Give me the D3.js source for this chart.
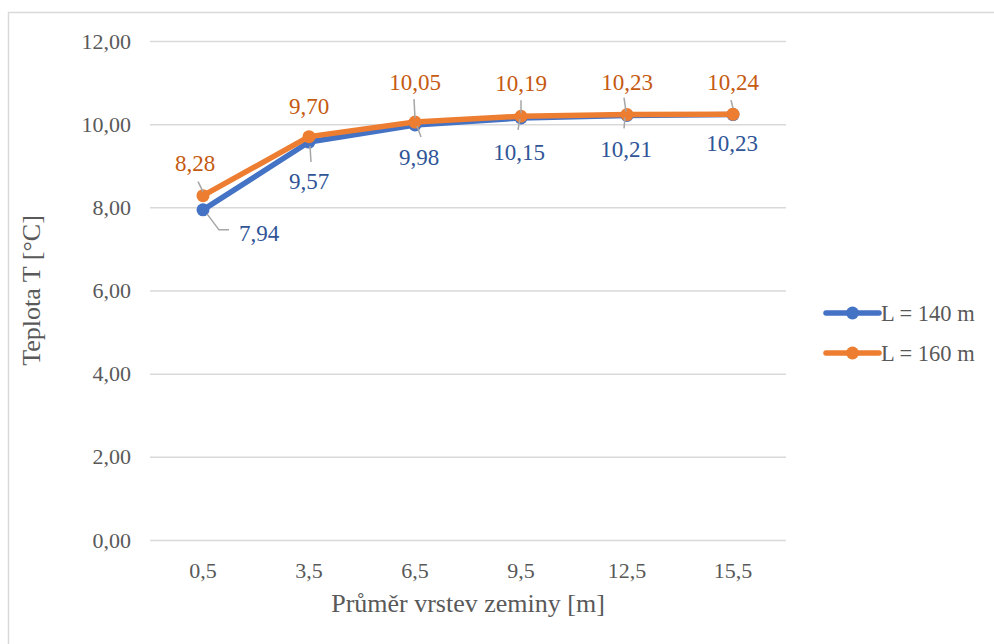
<!DOCTYPE html>
<html>
<head>
<meta charset="utf-8">
<script src="https://cdn.jsdelivr.net/npm/d3@7/dist/d3.min.js"></script>
<style>
    body { margin: 0; background: #fff; }
</style>
</head>
<body>
<svg id="chart"></svg>
<script>
// data
const categories = ['0,5', '3,5', '6,5', '9,5', '12,5', '15,5'];
const series140 = [7.94, 9.57, 9.98, 10.15, 10.21, 10.23];
const series160 = [8.28, 9.70, 10.05, 10.19, 10.23, 10.24];
const seriesNames = ['L = 140 m', 'L = 160 m'];
const yTicks = [0, 2, 4, 6, 8, 10, 12];

// label offsets (px from the point) and leader lines
const labelOffset140 = [[56, 23], [0, 39], [4, 32], [-2, 34], [-1, 34], [-1, 28]];
const labelOffset160 = [[-8, -33], [0, -31], [0, -40], [0, -33], [0, -33], [0, -32]];
const leaders140 = [
    [[4, 4], [16, 20], [26, 20]],
    [[1, 4], [2, 20]],
    [[2, 1], [6, 12]],
    [[-1, 1], [-3, 12]],
    [[-2, 2], [-3, 13]],
    null
];
const leaders160 = [
    [[-5, -14], [0, -4]],
    null,
    [[-1, -23], [0, -4]],
    [[0, -16], [0, -3]],
    [[-3, -17], [-1, -3]],
    [[-2, -14], [0, -6]]
];

const FONT = '"Liberation Serif", "Times New Roman", Tinos, "DejaVu Serif", serif';

const config = {
    width: 994,
    height: 644,
    margin: { top: 41, left: 150, right: 208, bottom: 104 }
};
const colors = { blue: '#4472C4', orange: '#ED7D31', blueText: '#2F5597', orangeText: '#C55A11' };

const svg = d3.select('#chart')
    .attr('width', config.width)
    .attr('height', config.height)
    .style('font-family', FONT);

// outer border
svg.append('rect')
    .attr('x', 8.5).attr('y', 12.5)
    .attr('width', 1000).attr('height', 700)
    .attr('fill', 'none')
    .attr('stroke', '#d9d9d9')
    .attr('stroke-width', 1.5);

const innerW = config.width - config.margin.left - config.margin.right;
const innerH = config.height - config.margin.top - config.margin.bottom;

const g = svg.append('g')
    .attr('transform', `translate(${config.margin.left},${config.margin.top})`);

const x = d3.scaleBand()
    .domain(categories)
    .range([0, innerW]);

const y = d3.scaleLinear()
    .domain([0, 12])
    .range([innerH, 0]);

// grid + y axis
const yAxis = d3.axisLeft(y)
    .tickValues(yTicks)
    .tickSize(-innerW)
    .tickPadding(19)
    .tickFormat(d => d3.format('.2f')(d).replace('.', ','));

g.append('g')
    .attr('class', 'y-axis')
    .call(yAxis)
    .attr('font-family', null)
    .call(a => a.select('.domain').remove())
    .call(a => a.selectAll('line').attr('stroke', '#d9d9d9').attr('stroke-width', 1.5))
    .call(a => a.selectAll('text').attr('fill', '#595959').attr('font-size', 22).style('font-family', FONT));

// x axis
const xAxis = d3.axisBottom(x).tickSize(0).tickPadding(22);
g.append('g')
    .attr('class', 'x-axis')
    .attr('transform', `translate(0,${innerH})`)
    .call(xAxis)
    .attr('font-family', null)
    .call(a => a.select('.domain').remove())
    .call(a => a.selectAll('text').attr('fill', '#595959').attr('font-size', 22).style('font-family', FONT));

// axis titles
svg.append('text')
    .attr('x', config.margin.left + innerW / 2)
    .attr('y', 612)
    .attr('text-anchor', 'middle')
    .attr('fill', '#595959')
    .attr('font-size', 26)
    .style('font-family', FONT)
    .text('Průměr vrstev zeminy [m]');

svg.append('text')
    .attr('transform', `translate(40,${config.margin.top + innerH / 2}) rotate(-90)`)
    .attr('text-anchor', 'middle')
    .attr('fill', '#595959')
    .attr('font-size', 26)
    .style('font-family', FONT)
    .text('Teplota T [°C]');

const cx = (d, i) => x(categories[i]) + x.bandwidth() / 2;

const line = d3.line()
    .x((d, i) => cx(d, i))
    .y(d => y(d));

const seriesList = [
    { values: series140, color: colors.blue, text: colors.blueText, offsets: labelOffset140, leaders: leaders140 },
    { values: series160, color: colors.orange, text: colors.orangeText, offsets: labelOffset160, leaders: leaders160 }
];

seriesList.forEach(s => {
    g.append('path')
        .datum(s.values)
        .attr('d', line)
        .attr('fill', 'none')
        .attr('stroke', s.color)
        .attr('stroke-width', 5.5)
        .attr('stroke-linejoin', 'round');

    g.selectAll(null)
        .data(s.values)
        .join('circle')
        .attr('cx', cx)
        .attr('cy', d => y(d))
        .attr('r', 6.5)
        .attr('fill', s.color);
});

// leaders and data labels
seriesList.forEach(s => {
    s.values.forEach((v, i) => {
        const px = cx(v, i), py = y(v);
        if (s.leaders[i]) {
            g.append('polyline')
                .attr('points', s.leaders[i].map(p => `${px + p[0]},${py + p[1]}`).join(' '))
                .attr('fill', 'none')
                .attr('stroke', '#a6a6a6')
                .attr('stroke-width', 1.5);
        }
        g.append('text')
            .attr('x', px + s.offsets[i][0])
            .attr('y', py + s.offsets[i][1])
            .attr('dy', '0.35em')
            .attr('text-anchor', 'middle')
            .attr('fill', s.text)
            .attr('font-size', 23)
            .style('font-family', FONT)
            .text(d3.format('.2f')(v).replace('.', ','));
    });
});

// legend
const legend = svg.append('g').attr('transform', 'translate(826,313)');
seriesNames.forEach((name, i) => {
    const lg = legend.append('g').attr('transform', `translate(0,${i * 40})`);
    lg.append('line')
        .attr('x1', 0).attr('x2', 53)
        .attr('stroke', seriesList[i].color)
        .attr('stroke-width', 5.5)
        .attr('stroke-linecap', 'round');
    lg.append('circle')
        .attr('cx', 26.5).attr('r', 6.5)
        .attr('fill', seriesList[i].color);
    lg.append('text')
        .attr('x', 55)
        .attr('dy', '0.35em')
        .attr('fill', '#595959')
        .attr('font-size', 22.5)
        .style('font-family', FONT)
        .text(name);
});
</script>
</body>
</html>
